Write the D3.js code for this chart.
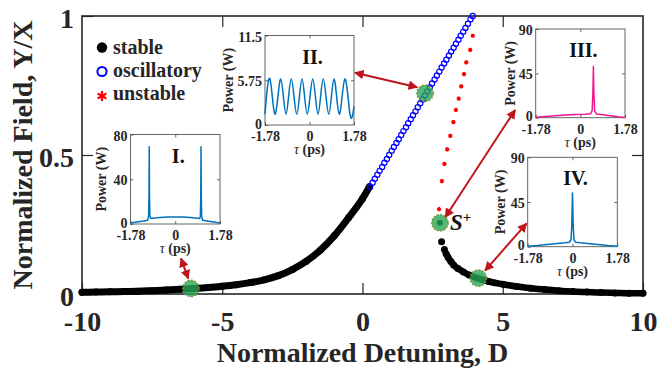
<!DOCTYPE html>
<html>
<head>
<meta charset="utf-8">
<script src="https://cdn.jsdelivr.net/npm/d3@7"></script>
<style>
  body { margin: 0; background: #fff; }
  svg { display: block; font-family: "Liberation Serif", "Times New Roman", serif; }
</style>
</head>
<body>
<svg id="chart" width="658" height="371"></svg>
<script>
// ---- main curve, values ----
// stable branch, left side (continuous dots)
const stableD = [-10, -9.5, -9, -8.5, -8, -7.5, -7, -6.5, -6, -5.5, -5, -4.5, -4, -3.5, -3, -2.5, -2, -1.5, -1, -0.5, 0, 0.25];
const stableY = [0.006, 0.007, 0.008, 0.009, 0.010, 0.012, 0.014, 0.017, 0.020, 0.0235, 0.028, 0.0335, 0.041, 0.051, 0.066, 0.088, 0.118, 0.158, 0.210, 0.274, 0.343, 0.386];

// stable branch, right side (after S+)
const lowD = [2.82, 2.92, 2.98, 3.05, 3.15, 3.25, 3.4, 3.6, 3.8, 4.1, 4.5, 5.0, 5.5, 6.0, 6.5, 7.0, 7.5, 8.0, 8.5, 9.0, 9.5, 10];
const lowY = [0.188, 0.160, 0.145, 0.132, 0.117, 0.104, 0.092, 0.079, 0.068, 0.057, 0.045, 0.035, 0.027, 0.021, 0.016, 0.012, 0.009, 0.007, 0.005, 0.004, 0.003, 0.003];

// oscillatory branch (open circles)
const oscD = [0.27, 0.36, 0.44, 0.53, 0.61, 0.70, 0.78, 0.87, 0.95, 1.04, 1.12, 1.21, 1.29, 1.38, 1.46, 1.55, 1.63, 1.72, 1.80, 1.89, 1.97, 2.06,
              2.14, 2.23, 2.31, 2.40, 2.48, 2.57, 2.65, 2.74, 2.82, 2.91, 2.99, 3.08, 3.16, 3.25, 3.33, 3.42, 3.50, 3.59, 3.67, 3.76, 3.85, 3.93];
const oscY = [0.386, 0.400, 0.415, 0.429, 0.443, 0.457, 0.472, 0.486, 0.500, 0.515, 0.529, 0.543, 0.557, 0.572, 0.586, 0.600, 0.614, 0.629, 0.643, 0.657, 0.672, 0.686,
              0.700, 0.715, 0.729, 0.743, 0.757, 0.772, 0.786, 0.800, 0.815, 0.829, 0.843, 0.858, 0.872, 0.886, 0.900, 0.915, 0.929, 0.943, 0.957, 0.972, 0.988, 1.000];

// unstable branch (red stars)
const unstD = [3.93, 3.84, 3.70, 3.62, 3.52, 3.43, 3.33, 3.24, 3.13, 3.02, 2.92, 2.83, 2.73];
const unstY = [0.929, 0.878, 0.833, 0.791, 0.747, 0.703, 0.662, 0.618, 0.569, 0.520, 0.468, 0.406, 0.305];

// highlighted states I, II, S+, IV
const markD = [-6.12, 2.23, 2.76, 4.13];
const markY = [0.020, 0.722, 0.256, 0.057];

// ---- inset traces (tau in ps, power in W) ----
const tauI = [-1.78, -1.6, -1.4, -1.2, -1.1, -1.06, -1.045, -1.035, -1.025, -1.01, -0.97, -0.9, -0.6, -0.3, 0, 0.3, 0.6, 0.9, 0.97, 1.0, 1.015, 1.025, 1.035, 1.05, 1.09, 1.2, 1.4, 1.6, 1.78];
const powI = [1.0, 1.5, 2.2, 3.0, 3.4, 7, 25, 69, 25, 7, 5.0, 5.2, 5.8, 6.2, 6.3, 6.2, 5.8, 5.2, 5.0, 7, 25, 69, 25, 7, 3.4, 3.0, 2.2, 1.5, 1.0];

const tauII = [-1.78, -1.58, -1.37, -1.15, -0.94, -0.73, -0.51, -0.30, -0.09, 0.13, 0.34, 0.55, 0.77, 0.98, 1.19, 1.41, 1.62, 1.78];
const powII = [1.4, 5.9, 1.4, 5.9, 1.4, 5.9, 1.4, 5.9, 1.4, 5.9, 1.4, 5.9, 1.4, 5.9, 1.4, 5.9, 1.4, 2.4];

const tauIII = [-1.78, -1.4, -1.0, -0.6, -0.2, 0.2, 0.4, 0.47, 0.50, 0.52, 0.54, 0.57, 0.64, 0.9, 1.2, 1.5, 1.78];
const powIII = [0.5, 1.2, 2.0, 2.7, 3.2, 3.6, 4.0, 7, 25, 52, 25, 7, 3.8, 3.0, 2.0, 1.0, 0.3];

const tauIV = [-1.78, -1.4, -1.0, -0.6, -0.3, -0.12, -0.06, -0.03, 0, 0.03, 0.06, 0.12, 0.3, 0.6, 1.0, 1.4, 1.78];
const powIV = [0.5, 1.2, 2.2, 3.2, 3.9, 4.5, 7, 20, 54, 20, 7, 4.5, 3.9, 3.2, 2.2, 1.2, 0.5];

const tauTicks = [-1.78, 0, 1.78];

const svg = d3.select("#chart");
const x = d3.scaleLinear().domain([-10, 10]).range([82, 643]);
const y = d3.scaleLinear().domain([0, 1]).range([294, 16]);
const ink = "#262626";

// frame
svg.append("rect")
    .attr("x", x(-10)).attr("y", y(1))
    .attr("width", x(10) - x(-10)).attr("height", y(0) - y(1))
    .attr("fill", "none").attr("stroke", ink).attr("stroke-width", 1.6);

const styleAxis = (g, size) => {
    g.select(".domain").remove();
    g.attr("font-family", null).attr("font-size", size).attr("font-weight", "bold");
    g.selectAll("line").attr("stroke", ink).attr("stroke-width", 1.2);
    g.selectAll("text").attr("fill", ink);
};

svg.append("g").attr("transform", `translate(0,${y(0)})`)
    .call(d3.axisBottom(x).tickValues([-10, -5, 0, 5, 10]).tickSize(-11).tickPadding(17).tickFormat(d => d))
    .call(g => styleAxis(g, 28));
svg.append("g").attr("transform", `translate(0,${y(1)})`)
    .call(d3.axisTop(x).tickValues([-5, 0, 5]).tickSize(-11).tickFormat(""))
    .call(g => styleAxis(g, 28));
svg.append("g").attr("transform", `translate(${x(-10)},0)`)
    .call(d3.axisLeft(y).tickValues([0, 0.5, 1]).tickSize(-11).tickPadding(8).tickFormat(d => d))
    .call(g => styleAxis(g, 28))
    .call(g => g.selectAll("text").attr("dy", "0.42em"));
svg.append("g").attr("transform", `translate(${x(10)},0)`)
    .call(d3.axisRight(y).tickValues([0.5]).tickSize(-11).tickFormat(""))
    .call(g => styleAxis(g, 28));

// axis titles
svg.append("text").attr("x", (x(-10) + x(10)) / 2).attr("y", 362)
    .attr("text-anchor", "middle").attr("font-size", 28).attr("font-weight", "bold").attr("fill", ink)
    .text("Normalized Detuning, D");
svg.append("text").attr("transform", `translate(32,${(y(0) + y(1)) / 2}) rotate(-90)`)
    .attr("text-anchor", "middle").attr("font-size", 28).attr("font-weight", "bold").attr("fill", ink)
    .text("Normalized Field, Y/X");

// ---- curves ----
const line = d3.line().x(d => x(d[0])).y(d => y(d[1])).curve(d3.curveMonotoneX);
const stable = d3.zip(stableD, stableY);
const low = d3.zip(lowD, lowY);

svg.append("path").datum(stable).attr("d", line)
    .attr("fill", "none").attr("stroke", "#000").attr("stroke-width", 7)
    .attr("stroke-linecap", "round").attr("stroke-linejoin", "round");
svg.append("path").datum(low.slice(2)).attr("d", line)
    .attr("fill", "none").attr("stroke", "#000").attr("stroke-width", 6.5)
    .attr("stroke-linecap", "round").attr("stroke-linejoin", "round");
svg.append("g").selectAll("circle").data(stable.concat(low)).join("circle")
    .attr("cx", d => x(d[0])).attr("cy", d => y(d[1])).attr("r", 3.5).attr("fill", "#000");

svg.append("g").selectAll("circle").data(d3.zip(oscD, oscY)).join("circle")
    .attr("cx", d => x(d[0])).attr("cy", d => y(d[1])).attr("r", 2.6)
    .attr("fill", "none").attr("stroke", "#0000ff").attr("stroke-width", 1.2);

const star = d3.symbol().type(d3.symbolAsterisk);
svg.append("g").selectAll("path").data(d3.zip(unstD, unstY)).join("path")
    .attr("transform", d => `translate(${x(d[0])},${y(d[1])})`)
    .attr("d", star.size(12)()).attr("fill", "none").attr("stroke", "#ff0000").attr("stroke-width", 1.8);

// ---- arrows (data coordinates) ----
const arrows = [
    [[-6.47, 0.128], [-6.21, 0.055]],
    [[-0.27, 0.796], [1.95, 0.744]],
    [[5.44, 0.662], [2.95, 0.276]],
    [[5.85, 0.254], [4.37, 0.084]]
];
const red = "#c0141c";
svg.append("defs").append("marker")
    .attr("id", "head").attr("viewBox", "0 0 10 10").attr("refX", 9).attr("refY", 5)
    .attr("markerWidth", 4.8).attr("markerHeight", 4.8).attr("markerUnits", "strokeWidth")
    .attr("orient", "auto-start-reverse")
  .append("path").attr("d", "M0,0L10,5L0,10z").attr("fill", red);
svg.append("g").selectAll("line").data(arrows).join("line")
    .attr("x1", d => x(d[0][0])).attr("y1", d => y(d[0][1]))
    .attr("x2", d => x(d[1][0])).attr("y2", d => y(d[1][1]))
    .attr("stroke", red).attr("stroke-width", 2)
    .attr("marker-start", "url(#head)").attr("marker-end", "url(#head)");

// ---- highlighted states ----
svg.append("circle").attr("cx", x(markD[2])).attr("cy", y(markY[2])).attr("r", 3).attr("fill", "#000");
svg.append("g").selectAll("circle").data(d3.zip(markD, markY)).join("circle")
    .attr("cx", d => x(d[0])).attr("cy", d => y(d[1])).attr("r", 8.2)
    .attr("fill", "rgba(40,165,85,0.8)").attr("stroke", "#7d9130")
    .attr("stroke-width", 1.3).attr("stroke-dasharray", "2,1.5");

const sLab = svg.append("text").attr("x", x(markD[2]) + 10).attr("y", y(markY[2]) + 7.5)
    .attr("font-size", 23).attr("font-style", "italic").attr("font-weight", "bold").attr("fill", "#111");
sLab.append("tspan").text("S");
sLab.append("tspan").attr("dy", -8).attr("font-size", 15).attr("font-style", "normal").text("+");

// ---- legend ----
const legend = svg.append("g").attr("font-size", 20).attr("font-weight", "bold").attr("fill", ink);
legend.append("circle").attr("cx", 102).attr("cy", 47.5).attr("r", 5.2).attr("fill", "#000");
legend.append("circle").attr("cx", 102).attr("cy", 71.5).attr("r", 4.6).attr("fill", "none").attr("stroke", "#0000ff").attr("stroke-width", 2);
legend.append("path").attr("transform", "translate(102,96)").attr("d", star.size(70)())
    .attr("fill", "none").attr("stroke", "#ff0000").attr("stroke-width", 2.2);
legend.append("text").attr("x", 113).attr("y", 53.5).text("stable");
legend.append("text").attr("x", 113).attr("y", 76.5).text("oscillatory");
legend.append("text").attr("x", 113).attr("y", 99.5).text("unstable");

// ---- insets ----
function inset(o) {
    const ix = d3.scaleLinear().domain([-1.78, 1.78]).range([o.x0, o.x1]);
    const iy = d3.scaleLinear().domain([0, o.yt[2]]).range([o.y1, o.y0]);
    const g = svg.append("g");
    g.append("rect").attr("x", o.x0).attr("y", o.y0).attr("width", o.x1 - o.x0).attr("height", o.y1 - o.y0)
        .attr("fill", "#fff").attr("stroke", "#555").attr("stroke-width", 0.9);
    const st = a => {
        a.select(".domain").remove();
        a.attr("font-family", null).attr("font-size", 14).attr("font-weight", "bold");
        a.selectAll("line").attr("stroke", "#444").attr("stroke-width", 0.8);
        a.selectAll("text").attr("fill", ink);
    };
    g.append("g").attr("transform", `translate(0,${o.y1})`)
        .call(d3.axisBottom(ix).tickValues(tauTicks).tickSize(-3).tickPadding(6).tickFormat(d => d)).call(st);
    g.append("g").attr("transform", `translate(0,${o.y0})`)
        .call(d3.axisTop(ix).tickValues([0]).tickSize(-3).tickFormat("")).call(st);
    g.append("g").attr("transform", `translate(${o.x0},0)`)
        .call(d3.axisLeft(iy).tickValues(o.yt).tickSize(-3).tickPadding(3).tickFormat(d => d)).call(st)
        .call(a => a.selectAll("text").attr("dy", d => d === 0 ? "0.22em" : "0.4em"));
    g.append("g").attr("transform", `translate(${o.x1},0)`)
        .call(d3.axisRight(iy).tickValues([o.yt[1]]).tickSize(-3).tickFormat("")).call(st);

    const l = d3.line().x(d => ix(d[0])).y(d => iy(d[1])).curve(o.curve);
    g.append("path").datum(d3.zip(o.tau, o.pow)).attr("d", l)
        .attr("fill", "none").attr("stroke", o.color).attr("stroke-width", 1.5).attr("stroke-linejoin", "round");

    const t = g.append("text").attr("x", (o.x0 + o.x1) / 2).attr("y", o.y1 + 29)
        .attr("text-anchor", "middle").attr("font-size", 14).attr("fill", ink);
    t.append("tspan").attr("font-style", "italic").text("τ");
    t.append("tspan").attr("font-weight", "bold").text(" (ps)");
    g.append("text").attr("transform", `translate(${o.x0 - o.lab},${(o.y0 + o.y1) / 2}) rotate(-90)`)
        .attr("text-anchor", "middle").attr("font-size", 14).attr("font-weight", "bold").attr("fill", ink)
        .text("Power (W)");
    g.append("text").attr("x", (o.x0 + o.x1) / 2 + 3).attr("y", o.y0 + 28)
        .attr("text-anchor", "middle").attr("font-size", 20).attr("font-weight", "bold").attr("fill", "#111")
        .text(o.name);
}

const blueLine = "#0072bd";
inset({ name: "I.", x0: 130.5, x1: 220, y0: 134.5, y1: 224, yt: [0, 40, 80], lab: 25,
        tau: tauI, pow: powI, color: blueLine, curve: d3.curveLinear });
inset({ name: "II.", x0: 265, x1: 354, y0: 35.5, y1: 125, yt: [0, 5.75, 11.5], lab: 32,
        tau: tauII, pow: powII, color: blueLine, curve: d3.curveNatural });
inset({ name: "III.", x0: 535.7, x1: 625, y0: 29, y1: 117.7, yt: [0, 45, 90], lab: 21,
        tau: tauIII, pow: powIII, color: "#f5168f", curve: d3.curveLinear });
inset({ name: "IV.", x0: 527.7, x1: 617.3, y0: 157.3, y1: 246.7, yt: [0, 45, 90], lab: 23,
        tau: tauIV, pow: powIV, color: blueLine, curve: d3.curveLinear });
</script>
</body>
</html>
